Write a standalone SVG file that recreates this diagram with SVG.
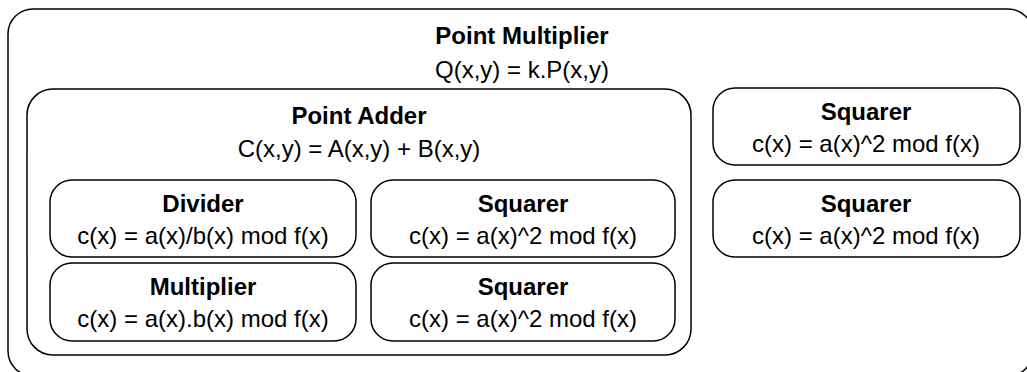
<svg xmlns="http://www.w3.org/2000/svg" width="1027" height="372" viewBox="0 0 1027 372">
<style>
.box{fill:#fff;stroke:#000;stroke-width:1.5}
.t{font-family:"Liberation Sans",Arial,sans-serif;font-size:24px;font-weight:bold;text-anchor:middle;fill:#000}
.f{font-family:"Liberation Sans",Arial,sans-serif;font-size:24px;text-anchor:middle;fill:#000}
</style>
<rect width="1027" height="372" fill="#fff"/>
<g id="point-multiplier">
<rect class="box" x="8" y="9" width="1025" height="367" rx="25"/>
<text class="t" x="522" y="44">Point Multiplier</text>
<text class="f" x="522" y="78">Q(x,y) = k.P(x,y)</text>
</g>
<g id="point-adder">
<rect class="box" x="27" y="89" width="664" height="266" rx="26"/>
<text class="t" x="359" y="124">Point Adder</text>
<text class="f" x="359" y="157">C(x,y) = A(x,y) + B(x,y)</text>
</g>
<g id="divider">
<rect class="box" x="50" y="180" width="306" height="77" rx="22"/>
<text class="t" x="203" y="212">Divider</text>
<text class="f" x="203" y="244">c(x) = a(x)/b(x) mod f(x)</text>
</g>
<g id="multiplier">
<rect class="box" x="50" y="263" width="306" height="78" rx="22"/>
<text class="t" x="203" y="295">Multiplier</text>
<text class="f" x="203" y="327">c(x) = a(x).b(x) mod f(x)</text>
</g>
<g id="squarer-1">
<rect class="box" x="371" y="180" width="304" height="77" rx="22"/>
<text class="t" x="523" y="212">Squarer</text>
<text class="f" x="523" y="244">c(x) = a(x)^2 mod f(x)</text>
</g>
<g id="squarer-2">
<rect class="box" x="371" y="263" width="304" height="78" rx="22"/>
<text class="t" x="523" y="295">Squarer</text>
<text class="f" x="523" y="327">c(x) = a(x)^2 mod f(x)</text>
</g>
<g id="squarer-3">
<rect class="box" x="713" y="88" width="307" height="77" rx="22"/>
<text class="t" x="866" y="120">Squarer</text>
<text class="f" x="866" y="152">c(x) = a(x)^2 mod f(x)</text>
</g>
<g id="squarer-4">
<rect class="box" x="713" y="180" width="307" height="77" rx="22"/>
<text class="t" x="866" y="212">Squarer</text>
<text class="f" x="866" y="244">c(x) = a(x)^2 mod f(x)</text>
</g>
<g id="connectors"></g>
</svg>
